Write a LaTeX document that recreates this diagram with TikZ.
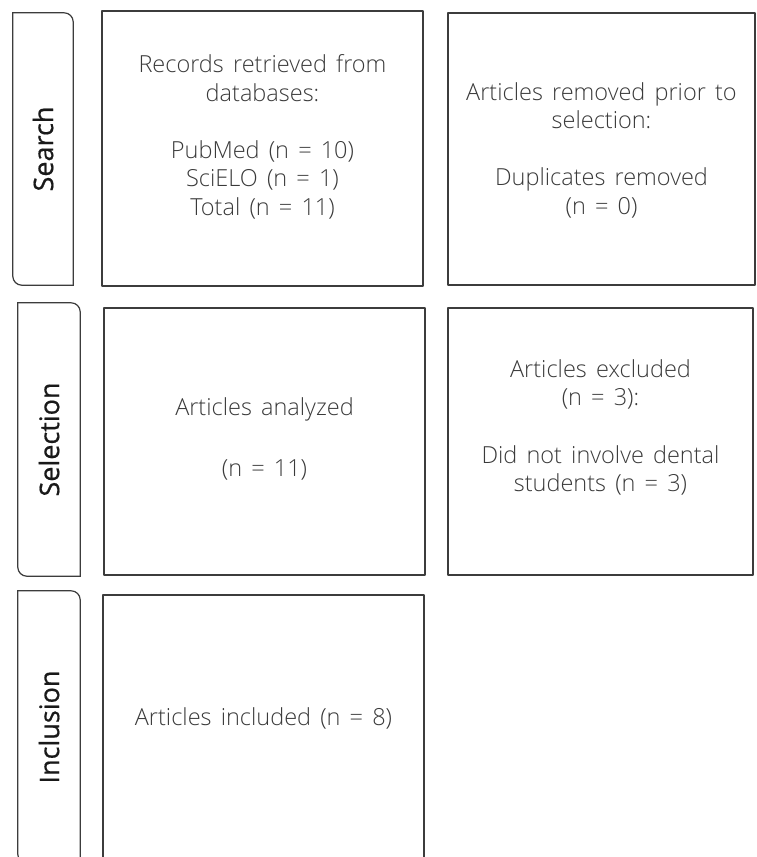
\documentclass[tikz,border=0pt]{standalone}
\usepackage{fontspec}
\newfontfamily\boxfont{Open Sans Light}[WordSpace=1.5]
\newfontfamily\lblfont{Open Sans}[FakeBold=0.6]
\definecolor{framegray}{HTML}{3C3C3C}
\definecolor{textgray}{HTML}{3A3A3A}

\begin{document}
\begin{tikzpicture}[
        x = 1pt, y = -1pt,
        line join=round,
        box/.style = {draw=framegray, line width=1.2pt, inner sep=0pt, rectangle},
        phase/.style = {inner sep=0pt, rectangle},
        phaseline/.style = {draw=framegray, line width=1.2pt, line cap=rect, rounded corners=9pt},
        phasetext/.style = {font=\lblfont\fontsize{27}{30}\selectfont, text=black!90, rotate=90},
        boxtext/.style = {font=\boxfont\fontsize{23.5}{28.5}\selectfont, text=textgray, align=center}
    ]
        \useasboundingbox (0,0) rectangle (756,857);
        \clip (0,0) rectangle (756,857);

        % phase labels
        \node[phase, minimum width=60pt, minimum height=272pt] (search) at (43,149) {};
        \node[phase, minimum width=62pt, minimum height=273pt] (selection) at (49,439.5) {};
        \node[phase, minimum width=62pt, minimum height=272pt] (inclusion) at (49,727) {};

        \foreach \p in {search, selection, inclusion}{
            \draw[phaseline] (\p.north west) -- (\p.north east) -- (\p.south east);
            \draw[phaseline] (\p.south east) -- (\p.south west) -- (\p.north west);
        }

        \node[phasetext] (searchlbl) at (search.center) {Search};
        \node[phasetext] (selectionlbl) at (selection.center) {Selection};
        \node[phasetext] (inclusionlbl) at (inclusion.center) {Inclusion};

        % boxes
        \node[box, minimum width=321pt, minimum height=275pt] (records) at (262.5,148.5) {};
        \node[box, minimum width=307pt, minimum height=272pt] (removed) at (601.5,149) {};
        \node[box, minimum width=321pt, minimum height=267pt] (analyzed) at (264.5,441.5) {};
        \node[box, minimum width=305pt, minimum height=267pt] (excluded) at (600.5,441.5) {};
        \node[box, minimum width=321pt, minimum height=273pt] (included) at (263.5,731.5) {};

        % texts
        \node[boxtext] (recordstxt) at (262.5,137)
            {Records retrieved from\\databases:\\[28.5pt]PubMed (n = 10)\\SciELO (n = 1)\\Total (n = 11)};
        \node[boxtext] (removedtxt) at (601.5,150)
            {Articles removed prior to\\selection:\\[28.5pt]Duplicates removed\\(n = 0)};
        \node[boxtext] (analyzedtxt) at (264.5,438.5)
            {Articles analyzed\\[32.5pt](n = 11)};
        \node[boxtext] (excludedtxt) at (600.5,427.5)
            {Articles excluded\\(n = 3):\\[29pt]Did not involve dental\\students (n = 3)};
        \node[boxtext] (includedtxt) at (263.5,718) {Articles included (n = 8)};

    \end{tikzpicture}
\end{document}
